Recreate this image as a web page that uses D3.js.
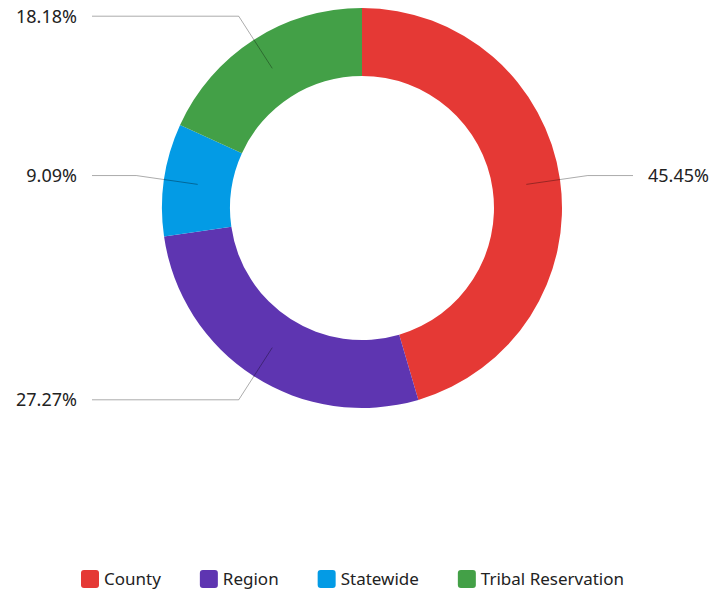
<!DOCTYPE html>
<html>
<head>
    <script src="https://d3js.org/d3.v7.min.js"></script>
    <style>
        body { margin: 0; background: #fff; }
        text { font-family: "Noto Sans", sans-serif; fill: #222; }
    </style>
</head>
<body>
    <script>
        // Data
        const categories = ["County", "Region", "Statewide", "Tribal Reservation"];
        const counts = [5, 3, 1, 2];
        const pctLabels = ["45.45%", "27.27%", "9.09%", "18.18%"];
        const colors = ["#e53935", "#5e35b1", "#039be5", "#43a047"];

        const width = 714;
        const height = 596;
        const cx = 362, cy = 208;
        const outerR = 200, innerR = 132;

        const svg = d3.select("body").append("svg")
            .attr("width", width)
            .attr("height", height);

        const color = d3.scaleOrdinal().domain(categories).range(colors);

        const pie = d3.pie().sort(null).value(d => d.value);
        const arcs = pie(categories.map((c, i) => ({ name: c, value: counts[i], label: pctLabels[i] })));

        const arc = d3.arc().innerRadius(innerR).outerRadius(outerR);
        const midArc = d3.arc().innerRadius(166).outerRadius(166);
        const elbowArc = d3.arc().innerRadius(228).outerRadius(228);

        const g = svg.append("g").attr("transform", `translate(${cx},${cy})`);

        // slices
        g.selectAll("path.slice")
            .data(arcs)
            .enter()
            .append("path")
            .attr("class", "slice")
            .attr("d", arc)
            .attr("fill", d => color(d.data.name));

        // leader lines
        const isRight = d => (d.startAngle + d.endAngle) / 2 < Math.PI;
        g.selectAll("polyline")
            .data(arcs)
            .enter()
            .append("polyline")
            .attr("fill", "none")
            .attr("stroke", "#000")
            .attr("stroke-opacity", 0.33)
            .attr("stroke-width", 1)
            .attr("points", d => {
                const a = midArc.centroid(d);
                const b = elbowArc.centroid(d);
                const endX = isRight(d) ? 633 - cx : 92 - cx;
                return [a, b, [endX, b[1]]].map(p => p.join(",")).join(" ");
            });

        // percentage labels
        g.selectAll("text.pct")
            .data(arcs)
            .enter()
            .append("text")
            .attr("class", "pct")
            .attr("x", d => isRight(d) ? 648 - cx : 77 - cx)
            .attr("y", d => elbowArc.centroid(d)[1])
            .attr("dy", "0.35em")
            .attr("text-anchor", d => isRight(d) ? "start" : "end")
            .style("font-size", "18px")
            .text(d => d.data.label);

        // legend
        const legend = svg.append("g").attr("transform", "translate(0,579)");
        let lx = 81;
        categories.forEach((c, i) => {
            const item = legend.append("g").attr("transform", `translate(${lx},0)`);
            item.append("rect")
                .attr("x", 0)
                .attr("y", -9)
                .attr("width", 18)
                .attr("height", 18)
                .attr("rx", 3)
                .attr("fill", color(c));
            const t = item.append("text")
                .attr("x", 23)
                .attr("y", 0)
                .attr("dy", "0.35em")
                .style("font-size", "17px")
                .text(c);
            lx += 23 + t.node().getComputedTextLength() + 39;
        });
    </script>
</body>
</html>
